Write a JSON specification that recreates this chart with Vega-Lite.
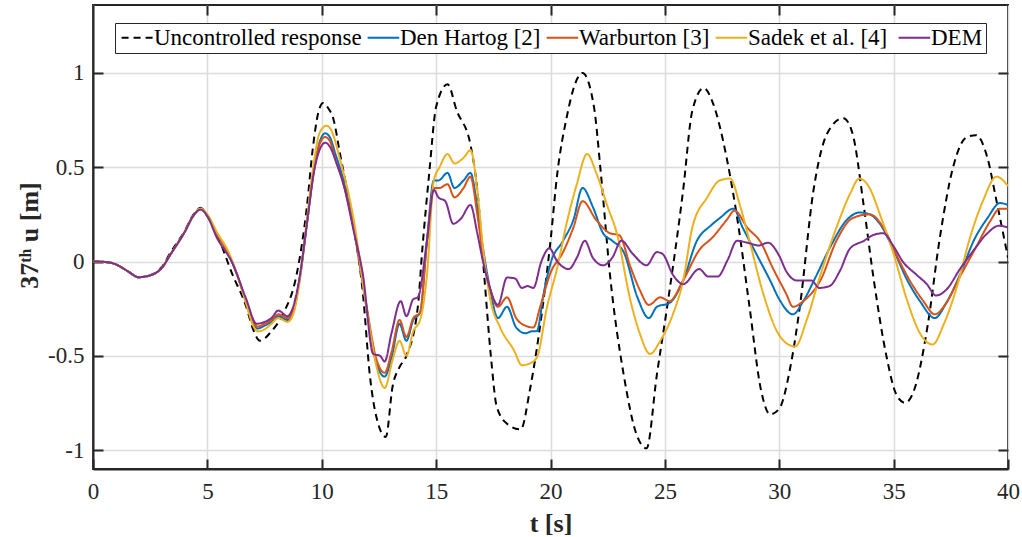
{
"$schema": "https://vega.github.io/schema/vega-lite/v6.json",
"width": 915, "height": 464,
"autosize": {"type": "none"},
"padding": {"left": 93, "top": 5, "right": 14, "bottom": 68},
"background": "white",
"config": {"view": {"stroke": "#262626", "strokeWidth": 2}, "font": "Liberation Serif"},
"data": {"values": [
{"s":"U","t":0,"u":0},{"s":"U","t":0.5,"u":-0.002},{"s":"U","t":1,"u":-0.015},{"s":"U","t":1.5,"u":-0.05},{"s":"U","t":2,"u":-0.083},{"s":"U","t":2.5,"u":-0.073},{"s":"U","t":3,"u":-0.03},{"s":"U","t":3.4,"u":0.05},{"s":"U","t":4,"u":0.16},{"s":"U","t":4.4,"u":0.25},{"s":"U","t":4.7,"u":0.285},{"s":"U","t":5,"u":0.24},
{"s":"U","t":5.4,"u":0.15},{"s":"U","t":6.1,"u":-0.07},{"s":"U","t":6.7,"u":-0.24},{"s":"U","t":7.0,"u":-0.36},{"s":"U","t":7.3,"u":-0.42},{"s":"U","t":7.8,"u":-0.37},{"s":"U","t":8.3,"u":-0.28},{"s":"U","t":8.9,"u":-0.07},{"s":"U","t":9.35,"u":0.29},{"s":"U","t":9.6,"u":0.59},{"s":"U","t":9.85,"u":0.79},{"s":"U","t":10.06,"u":0.84},{"s":"U","t":10.3,"u":0.81},{"s":"U","t":10.5,"u":0.76},{"s":"U","t":10.8,"u":0.57},{"s":"U","t":11.4,"u":0.18},{"s":"U","t":11.8,"u":-0.17},{"s":"U","t":12.1,"u":-0.6},{"s":"U","t":12.4,"u":-0.83},{"s":"U","t":12.8,"u":-0.93},{"s":"U","t":13.1,"u":-0.66},{"s":"U","t":13.4,"u":-0.56},{"s":"U","t":13.7,"u":-0.5},{"s":"U","t":14.2,"u":-0.24},{"s":"U","t":14.4,"u":0.07},{"s":"U","t":14.7,"u":0.47},{"s":"U","t":15.0,"u":0.82},{"s":"U","t":15.5,"u":0.94},{"s":"U","t":15.9,"u":0.8},{"s":"U","t":16.5,"u":0.62},{"s":"U","t":16.8,"u":0.38},{"s":"U","t":17.1,"u":-0.07},{"s":"U","t":17.4,"u":-0.51},{"s":"U","t":17.65,"u":-0.77},{"s":"U","t":18.1,"u":-0.86},{"s":"U","t":18.7,"u":-0.89},{"s":"U","t":19.1,"u":-0.68},{"s":"U","t":19.5,"u":-0.38},{"s":"U","t":20.0,"u":0.11},{"s":"U","t":20.3,"u":0.47},{"s":"U","t":20.7,"u":0.76},{"s":"U","t":21.1,"u":0.95},{"s":"U","t":21.4,"u":1.0},{"s":"U","t":21.9,"u":0.82},{"s":"U","t":22.2,"u":0.47},{"s":"U","t":22.6,"u":-0.07},{"s":"U","t":23.2,"u":-0.6},{"s":"U","t":23.8,"u":-0.93},{"s":"U","t":24.2,"u":-0.99},{"s":"U","t":24.65,"u":-0.6},{"s":"U","t":25.1,"u":-0.24},{"s":"U","t":25.8,"u":0.38},{"s":"U","t":26.2,"u":0.8},{"s":"U","t":26.7,"u":0.92},{"s":"U","t":27.1,"u":0.84},{"s":"U","t":27.7,"u":0.55},{"s":"U","t":28.2,"u":0.2},{"s":"U","t":28.7,"u":-0.24},{"s":"U","t":29.2,"u":-0.68},{"s":"U","t":29.6,"u":-0.81},{"s":"U","t":30.0,"u":-0.78},{"s":"U","t":30.5,"u":-0.55},{"s":"U","t":30.9,"u":-0.24},{"s":"U","t":31.5,"u":0.38},{"s":"U","t":32.1,"u":0.68},{"s":"U","t":32.8,"u":0.76},{"s":"U","t":33.2,"u":0.68},{"s":"U","t":33.7,"u":0.29},{"s":"U","t":34.1,"u":-0.07},{"s":"U","t":34.7,"u":-0.51},{"s":"U","t":35.1,"u":-0.7},{"s":"U","t":35.5,"u":-0.75},{"s":"U","t":35.9,"u":-0.68},{"s":"U","t":36.5,"u":-0.33},{"s":"U","t":37.0,"u":0.11},{"s":"U","t":37.6,"u":0.5},{"s":"U","t":38.2,"u":0.66},{"s":"U","t":38.6,"u":0.67},{"s":"U","t":39.1,"u":0.55},{"s":"U","t":39.5,"u":0.32},{"s":"U","t":40,"u":0.02},

{"s":"DH","t":0,"u":0},{"s":"DH","t":0.5,"u":-0.002},{"s":"DH","t":1,"u":-0.015},{"s":"DH","t":1.5,"u":-0.05},{"s":"DH","t":2,"u":-0.083},{"s":"DH","t":2.5,"u":-0.073},{"s":"DH","t":3,"u":-0.035},{"s":"DH","t":3.4,"u":0.04},{"s":"DH","t":4,"u":0.155},{"s":"DH","t":4.4,"u":0.245},{"s":"DH","t":4.7,"u":0.28},{"s":"DH","t":5,"u":0.245},
{"s":"DH","t":5.4,"u":0.15},{"s":"DH","t":6.0,"u":0.02},{"s":"DH","t":6.3,"u":-0.07},{"s":"DH","t":6.7,"u":-0.22},{"s":"DH","t":7.0,"u":-0.33},{"s":"DH","t":7.2,"u":-0.355},{"s":"DH","t":7.5,"u":-0.34},{"s":"DH","t":7.8,"u":-0.32},{"s":"DH","t":8.1,"u":-0.29},{"s":"DH","t":8.5,"u":-0.31},{"s":"DH","t":8.75,"u":-0.27},{"s":"DH","t":9.05,"u":-0.08},{"s":"DH","t":9.35,"u":0.2},{"s":"DH","t":9.65,"u":0.48},{"s":"DH","t":9.9,"u":0.63},{"s":"DH","t":10.15,"u":0.68},{"s":"DH","t":10.35,"u":0.66},{"s":"DH","t":10.6,"u":0.57},{"s":"DH","t":10.95,"u":0.43},{"s":"DH","t":11.4,"u":0.18},{"s":"DH","t":11.95,"u":-0.24},{"s":"DH","t":12.35,"u":-0.52},{"s":"DH","t":12.75,"u":-0.61},{"s":"DH","t":13.05,"u":-0.51},{"s":"DH","t":13.4,"u":-0.33},{"s":"DH","t":13.7,"u":-0.42},{"s":"DH","t":14.0,"u":-0.31},{"s":"DH","t":14.3,"u":-0.27},{"s":"DH","t":14.6,"u":0.11},{"s":"DH","t":14.9,"u":0.43},{"s":"DH","t":15.1,"u":0.43},{"s":"DH","t":15.5,"u":0.47},{"s":"DH","t":15.8,"u":0.39},{"s":"DH","t":16.2,"u":0.43},{"s":"DH","t":16.5,"u":0.47},{"s":"DH","t":16.8,"u":0.29},{"s":"DH","t":17.05,"u":0.07},{"s":"DH","t":17.35,"u":-0.14},{"s":"DH","t":17.7,"u":-0.3},{"s":"DH","t":18.1,"u":-0.24},{"s":"DH","t":18.5,"u":-0.35},{"s":"DH","t":18.9,"u":-0.38},{"s":"DH","t":19.2,"u":-0.37},{"s":"DH","t":19.4,"u":-0.37},{"s":"DH","t":19.7,"u":-0.17},{"s":"DH","t":20.0,"u":-0.01},{"s":"DH","t":20.55,"u":0.11},{"s":"DH","t":21.0,"u":0.22},{"s":"DH","t":21.4,"u":0.39},{"s":"DH","t":21.85,"u":0.29},{"s":"DH","t":22.3,"u":0.15},{"s":"DH","t":22.7,"u":0.11},{"s":"DH","t":23.2,"u":0.05},{"s":"DH","t":23.8,"u":-0.19},{"s":"DH","t":24.3,"u":-0.3},{"s":"DH","t":24.65,"u":-0.24},{"s":"DH","t":25.2,"u":-0.22},{"s":"DH","t":25.8,"u":-0.1},{"s":"DH","t":26.4,"u":0.11},{"s":"DH","t":27.0,"u":0.19},{"s":"DH","t":27.4,"u":0.23},{"s":"DH","t":28.0,"u":0.28},{"s":"DH","t":28.4,"u":0.18},{"s":"DH","t":29.0,"u":0.04},{"s":"DH","t":29.6,"u":-0.1},{"s":"DH","t":30.0,"u":-0.2},{"s":"DH","t":30.6,"u":-0.28},{"s":"DH","t":31.05,"u":-0.21},{"s":"DH","t":31.6,"u":-0.08},{"s":"DH","t":32.2,"u":0.07},{"s":"DH","t":32.95,"u":0.22},{"s":"DH","t":33.5,"u":0.26},{"s":"DH","t":33.95,"u":0.25},{"s":"DH","t":34.4,"u":0.2},{"s":"DH","t":35.0,"u":0.06},{"s":"DH","t":35.6,"u":-0.1},{"s":"DH","t":36.15,"u":-0.21},{"s":"DH","t":36.8,"u":-0.3},{"s":"DH","t":37.3,"u":-0.22},{"s":"DH","t":37.9,"u":-0.07},{"s":"DH","t":38.5,"u":0.11},{"s":"DH","t":39.1,"u":0.23},{"s":"DH","t":39.65,"u":0.31},{"s":"DH","t":40,"u":0.3},

{"s":"W","t":0,"u":0},{"s":"W","t":0.5,"u":-0.002},{"s":"W","t":1,"u":-0.015},{"s":"W","t":1.5,"u":-0.05},{"s":"W","t":2,"u":-0.083},{"s":"W","t":2.5,"u":-0.073},{"s":"W","t":3,"u":-0.035},{"s":"W","t":3.4,"u":0.04},{"s":"W","t":4,"u":0.155},{"s":"W","t":4.4,"u":0.245},{"s":"W","t":4.7,"u":0.28},{"s":"W","t":5,"u":0.245},
{"s":"W","t":5.4,"u":0.15},{"s":"W","t":6.0,"u":0.02},{"s":"W","t":6.3,"u":-0.07},{"s":"W","t":6.7,"u":-0.215},{"s":"W","t":7.0,"u":-0.32},{"s":"W","t":7.2,"u":-0.345},{"s":"W","t":7.5,"u":-0.33},{"s":"W","t":7.8,"u":-0.31},{"s":"W","t":8.1,"u":-0.28},{"s":"W","t":8.5,"u":-0.3},{"s":"W","t":8.75,"u":-0.26},{"s":"W","t":9.05,"u":-0.08},{"s":"W","t":9.35,"u":0.2},{"s":"W","t":9.65,"u":0.47},{"s":"W","t":9.9,"u":0.62},{"s":"W","t":10.15,"u":0.66},{"s":"W","t":10.35,"u":0.64},{"s":"W","t":10.6,"u":0.54},{"s":"W","t":10.95,"u":0.41},{"s":"W","t":11.4,"u":0.17},{"s":"W","t":11.95,"u":-0.23},{"s":"W","t":12.35,"u":-0.5},{"s":"W","t":12.75,"u":-0.59},{"s":"W","t":13.05,"u":-0.48},{"s":"W","t":13.4,"u":-0.31},{"s":"W","t":13.7,"u":-0.4},{"s":"W","t":14.0,"u":-0.3},{"s":"W","t":14.3,"u":-0.27},{"s":"W","t":14.6,"u":0.11},{"s":"W","t":14.9,"u":0.39},{"s":"W","t":15.15,"u":0.39},{"s":"W","t":15.5,"u":0.41},{"s":"W","t":15.8,"u":0.34},{"s":"W","t":16.2,"u":0.39},{"s":"W","t":16.5,"u":0.45},{"s":"W","t":16.8,"u":0.25},{"s":"W","t":17.05,"u":0.03},{"s":"W","t":17.35,"u":-0.14},{"s":"W","t":17.7,"u":-0.24},{"s":"W","t":18.1,"u":-0.19},{"s":"W","t":18.5,"u":-0.3},{"s":"W","t":18.9,"u":-0.34},{"s":"W","t":19.25,"u":-0.35},{"s":"W","t":19.55,"u":-0.24},{"s":"W","t":20.0,"u":-0.06},{"s":"W","t":20.55,"u":0.05},{"s":"W","t":21.0,"u":0.18},{"s":"W","t":21.4,"u":0.32},{"s":"W","t":22.0,"u":0.22},{"s":"W","t":22.6,"u":0.15},{"s":"W","t":23.0,"u":0.14},{"s":"W","t":23.5,"u":-0.03},{"s":"W","t":23.9,"u":-0.15},{"s":"W","t":24.3,"u":-0.23},{"s":"W","t":24.8,"u":-0.19},{"s":"W","t":25.2,"u":-0.21},{"s":"W","t":25.8,"u":-0.1},{"s":"W","t":26.5,"u":0.06},{"s":"W","t":27.1,"u":0.13},{"s":"W","t":27.7,"u":0.22},{"s":"W","t":28.05,"u":0.27},{"s":"W","t":28.6,"u":0.18},{"s":"W","t":29.2,"u":0.1},{"s":"W","t":29.7,"u":-0.03},{"s":"W","t":30.3,"u":-0.17},{"s":"W","t":30.6,"u":-0.24},{"s":"W","t":31.05,"u":-0.21},{"s":"W","t":31.8,"u":-0.1},{"s":"W","t":32.5,"u":0.11},{"s":"W","t":33.2,"u":0.23},{"s":"W","t":33.95,"u":0.25},{"s":"W","t":34.55,"u":0.18},{"s":"W","t":35.1,"u":0.04},{"s":"W","t":35.7,"u":-0.1},{"s":"W","t":36.3,"u":-0.21},{"s":"W","t":36.8,"u":-0.28},{"s":"W","t":37.3,"u":-0.22},{"s":"W","t":37.9,"u":-0.08},{"s":"W","t":38.6,"u":0.075},{"s":"W","t":39.2,"u":0.21},{"s":"W","t":39.65,"u":0.28},{"s":"W","t":40,"u":0.28},

{"s":"S","t":0,"u":0},{"s":"S","t":0.5,"u":-0.002},{"s":"S","t":1,"u":-0.015},{"s":"S","t":1.5,"u":-0.05},{"s":"S","t":2,"u":-0.083},{"s":"S","t":2.5,"u":-0.073},{"s":"S","t":3,"u":-0.035},{"s":"S","t":3.4,"u":0.04},{"s":"S","t":4,"u":0.155},{"s":"S","t":4.4,"u":0.245},{"s":"S","t":4.7,"u":0.28},{"s":"S","t":5,"u":0.25},
{"s":"S","t":5.4,"u":0.16},{"s":"S","t":6.0,"u":0.03},{"s":"S","t":6.3,"u":-0.07},{"s":"S","t":6.7,"u":-0.225},{"s":"S","t":7.0,"u":-0.34},{"s":"S","t":7.2,"u":-0.37},{"s":"S","t":7.5,"u":-0.36},{"s":"S","t":7.8,"u":-0.33},{"s":"S","t":8.1,"u":-0.3},{"s":"S","t":8.5,"u":-0.32},{"s":"S","t":8.75,"u":-0.28},{"s":"S","t":9.05,"u":-0.09},{"s":"S","t":9.35,"u":0.22},{"s":"S","t":9.65,"u":0.52},{"s":"S","t":9.9,"u":0.68},{"s":"S","t":10.2,"u":0.72},{"s":"S","t":10.4,"u":0.7},{"s":"S","t":10.8,"u":0.54},{"s":"S","t":11.4,"u":0.22},{"s":"S","t":11.95,"u":-0.24},{"s":"S","t":12.4,"u":-0.56},{"s":"S","t":12.75,"u":-0.67},{"s":"S","t":13.1,"u":-0.52},{"s":"S","t":13.4,"u":-0.42},{"s":"S","t":13.7,"u":-0.5},{"s":"S","t":14.0,"u":-0.37},{"s":"S","t":14.3,"u":-0.31},{"s":"S","t":14.6,"u":-0.07},{"s":"S","t":14.9,"u":0.43},{"s":"S","t":15.15,"u":0.5},{"s":"S","t":15.5,"u":0.57},{"s":"S","t":15.8,"u":0.52},{"s":"S","t":16.2,"u":0.55},{"s":"S","t":16.5,"u":0.59},{"s":"S","t":16.8,"u":0.38},{"s":"S","t":17.05,"u":0.07},{"s":"S","t":17.35,"u":-0.19},{"s":"S","t":17.8,"u":-0.35},{"s":"S","t":18.4,"u":-0.47},{"s":"S","t":18.75,"u":-0.55},{"s":"S","t":19.1,"u":-0.54},{"s":"S","t":19.4,"u":-0.51},{"s":"S","t":19.85,"u":-0.24},{"s":"S","t":20.3,"u":-0.03},{"s":"S","t":20.7,"u":0.2},{"s":"S","t":21.15,"u":0.41},{"s":"S","t":21.6,"u":0.57},{"s":"S","t":22.0,"u":0.47},{"s":"S","t":22.5,"u":0.29},{"s":"S","t":22.9,"u":0.15},{"s":"S","t":23.5,"u":-0.21},{"s":"S","t":23.9,"u":-0.38},{"s":"S","t":24.35,"u":-0.49},{"s":"S","t":24.8,"u":-0.42},{"s":"S","t":25.35,"u":-0.28},{"s":"S","t":25.8,"u":-0.1},{"s":"S","t":26.2,"u":0.18},{"s":"S","t":26.85,"u":0.34},{"s":"S","t":27.4,"u":0.43},{"s":"S","t":27.85,"u":0.44},{"s":"S","t":28.3,"u":0.29},{"s":"S","t":28.7,"u":0.11},{"s":"S","t":29.3,"u":-0.17},{"s":"S","t":29.9,"u":-0.37},{"s":"S","t":30.4,"u":-0.44},{"s":"S","t":30.7,"u":-0.45},{"s":"S","t":31.2,"u":-0.31},{"s":"S","t":31.8,"u":-0.07},{"s":"S","t":32.5,"u":0.18},{"s":"S","t":33.1,"u":0.36},{"s":"S","t":33.5,"u":0.44},{"s":"S","t":33.95,"u":0.39},{"s":"S","t":34.4,"u":0.25},{"s":"S","t":35.0,"u":0.04},{"s":"S","t":35.6,"u":-0.21},{"s":"S","t":36.15,"u":-0.38},{"s":"S","t":36.7,"u":-0.44},{"s":"S","t":37.2,"u":-0.33},{"s":"S","t":37.8,"u":-0.12},{"s":"S","t":38.3,"u":0.11},{"s":"S","t":38.9,"u":0.32},{"s":"S","t":39.5,"u":0.45},{"s":"S","t":40,"u":0.4},

{"s":"D","t":0,"u":0},{"s":"D","t":0.5,"u":-0.002},{"s":"D","t":1,"u":-0.015},{"s":"D","t":1.5,"u":-0.05},{"s":"D","t":2,"u":-0.083},{"s":"D","t":2.5,"u":-0.073},{"s":"D","t":3,"u":-0.035},{"s":"D","t":3.4,"u":0.04},{"s":"D","t":4,"u":0.155},{"s":"D","t":4.4,"u":0.245},{"s":"D","t":4.7,"u":0.275},{"s":"D","t":5,"u":0.24},
{"s":"D","t":5.4,"u":0.13},{"s":"D","t":6.1,"u":-0.01},{"s":"D","t":6.7,"u":-0.2},{"s":"D","t":7.15,"u":-0.33},{"s":"D","t":7.5,"u":-0.32},{"s":"D","t":7.8,"u":-0.3},{"s":"D","t":8.1,"u":-0.26},{"s":"D","t":8.5,"u":-0.29},{"s":"D","t":8.75,"u":-0.24},{"s":"D","t":9.05,"u":-0.07},{"s":"D","t":9.35,"u":0.2},{"s":"D","t":9.65,"u":0.47},{"s":"D","t":9.9,"u":0.59},{"s":"D","t":10.15,"u":0.63},{"s":"D","t":10.35,"u":0.61},{"s":"D","t":10.65,"u":0.52},{"s":"D","t":10.95,"u":0.41},{"s":"D","t":11.4,"u":0.16},{"s":"D","t":11.8,"u":-0.07},{"s":"D","t":12.25,"u":-0.49},{"s":"D","t":12.55,"u":-0.5},{"s":"D","t":12.75,"u":-0.53},{"s":"D","t":13.05,"u":-0.38},{"s":"D","t":13.45,"u":-0.21},{"s":"D","t":13.7,"u":-0.29},{"s":"D","t":14.0,"u":-0.2},{"s":"D","t":14.2,"u":-0.19},{"s":"D","t":14.6,"u":0.11},{"s":"D","t":14.9,"u":0.38},{"s":"D","t":15.1,"u":0.34},{"s":"D","t":15.4,"u":0.32},{"s":"D","t":15.75,"u":0.2},{"s":"D","t":16.1,"u":0.23},{"s":"D","t":16.5,"u":0.3},{"s":"D","t":16.8,"u":0.15},{"s":"D","t":17.05,"u":0.0},{"s":"D","t":17.35,"u":-0.14},{"s":"D","t":17.7,"u":-0.23},{"s":"D","t":18.1,"u":-0.085},{"s":"D","t":18.45,"u":-0.09},{"s":"D","t":18.75,"u":-0.14},{"s":"D","t":19.0,"u":-0.13},{"s":"D","t":19.25,"u":-0.14},{"s":"D","t":19.6,"u":0.0},{"s":"D","t":19.95,"u":0.07},{"s":"D","t":20.3,"u":0.0},{"s":"D","t":20.8,"u":-0.04},{"s":"D","t":21.15,"u":0.02},{"s":"D","t":21.5,"u":0.11},{"s":"D","t":21.85,"u":0.02},{"s":"D","t":22.3,"u":-0.02},{"s":"D","t":22.7,"u":0.02},{"s":"D","t":23.1,"u":0.11},{"s":"D","t":23.6,"u":0.04},{"s":"D","t":24.2,"u":-0.02},{"s":"D","t":24.65,"u":0.05},{"s":"D","t":24.9,"u":0.04},{"s":"D","t":25.35,"u":-0.07},{"s":"D","t":25.8,"u":-0.12},{"s":"D","t":26.5,"u":-0.04},{"s":"D","t":26.9,"u":-0.08},{"s":"D","t":27.3,"u":-0.08},{"s":"D","t":27.75,"u":0.01},{"s":"D","t":28.15,"u":0.11},{"s":"D","t":28.6,"u":0.1},{"s":"D","t":29.1,"u":0.085},{"s":"D","t":29.5,"u":0.1},{"s":"D","t":30.0,"u":0.03},{"s":"D","t":30.3,"u":-0.05},{"s":"D","t":30.75,"u":-0.1},{"s":"D","t":31.05,"u":-0.1},{"s":"D","t":31.4,"u":-0.1},{"s":"D","t":31.75,"u":-0.14},{"s":"D","t":32.2,"u":-0.13},{"s":"D","t":32.65,"u":-0.05},{"s":"D","t":33.1,"u":0.07},{"s":"D","t":33.7,"u":0.11},{"s":"D","t":34.1,"u":0.14},{"s":"D","t":34.55,"u":0.15},{"s":"D","t":35.0,"u":0.08},{"s":"D","t":35.4,"u":0.0},{"s":"D","t":36.0,"u":-0.07},{"s":"D","t":36.45,"u":-0.12},{"s":"D","t":36.85,"u":-0.18},{"s":"D","t":37.3,"u":-0.15},{"s":"D","t":37.9,"u":-0.04},{"s":"D","t":38.5,"u":0.06},{"s":"D","t":39.1,"u":0.15},{"s":"D","t":39.6,"u":0.19},{"s":"D","t":40,"u":0.18}
]},
"layer": [
{
"mark": {"type": "line", "strokeWidth": 2, "interpolate": "monotone", "clip": true},
"encoding": {
"x": {"field": "t", "type": "quantitative", "scale": {"domain": [0, 40], "nice": false, "zero": false},
  "axis": {"values": [0,5,10,15,20,25,30,35,40], "labelFont": "Liberation Serif", "labelFontSize": 23, "labelColor": "#262626", "labelPadding": 21, "labelFlush": false,
    "tickSize": -10, "tickWidth": 2, "tickColor": "#262626", "domainColor": "#262626", "domainWidth": 2,
    "gridColor": "#dcdcdc", "gridWidth": 1.5,
    "title": "t  [s]", "titleFont": "Liberation Serif", "titleFontSize": 26, "titleFontWeight": "bold", "titleColor": "#262626", "titleY": 62, "titleBaseline": "alphabetic"}},
"y": {"field": "u", "type": "quantitative", "scale": {"domain": [-1.1, 1.36], "nice": false, "zero": false},
  "axis": {"values": [-1,-0.5,0,0.5,1], "labelExpr": "datum.value + ''", "labelFont": "Liberation Serif", "labelFontSize": 23, "labelColor": "#262626", "labelPadding": 19, "labelFlush": false,
    "tickSize": -10, "tickWidth": 2, "tickColor": "#262626", "domainColor": "#262626", "domainWidth": 2,
    "gridColor": "#dcdcdc", "gridWidth": 1.5,
    "title": "37ᵗʰ   u  [m]", "titleFont": "Liberation Serif", "titleFontSize": 26, "titleFontWeight": "bold", "titleColor": "#262626", "titleX": -56, "titleY": 230, "titleBaseline": "alphabetic", "titleAlign": "center", "titleAngle": -90}},
"color": {"field": "s", "type": "nominal",
  "scale": {"domain": ["U","DH","W","S","D"], "range": ["#000000","#0072BD","#D95319","#EDB120","#7E2F8E"]},
  "legend": {"orient": "none", "legendX": 22, "legendY": 18, "direction": "horizontal", "columns": 5, "title": null,
    "labelExpr": "{'U':'Uncontrolled response','DH':'Den Hartog [2]','W':'Warburton [3]','S':'Sadek  et al. [4]','D':'DEM'}[datum.label]",
    "labelFont": "Liberation Serif", "labelFontSize": 23, "labelColor": "#000000", "labelLimit": 400,
    "symbolType": "M-1,0L3,0", "symbolSize": 250, "symbolStrokeWidth": 2,
    "strokeColor": "#262626", "fillColor": "white", "padding": 3, "columnPadding": 1, "labelOffset": 13}},
"strokeDash": {"field": "s", "type": "nominal",
  "scale": {"domain": ["U","DH","W","S","D"], "range": [[7,5],[1,0],[1,0],[1,0],[1,0]]},
  "legend": {"orient": "none", "legendX": 22, "legendY": 18, "direction": "horizontal", "columns": 5, "title": null,
    "labelExpr": "{'U':'Uncontrolled response','DH':'Den Hartog [2]','W':'Warburton [3]','S':'Sadek  et al. [4]','D':'DEM'}[datum.label]",
    "labelFont": "Liberation Serif", "labelFontSize": 23, "labelColor": "#000000", "labelLimit": 400,
    "symbolType": "M-1,0L3,0", "symbolSize": 250, "symbolStrokeWidth": 2,
    "strokeColor": "#262626", "fillColor": "white", "padding": 3, "columnPadding": 1, "labelOffset": 13}}
}
},
{
"mark": {"type": "line", "opacity": 0},
"encoding": {
"x": {"field": "t", "type": "quantitative", "axis": {"orient": "top", "values": [5,10,15,20,25,30,35], "labels": false, "title": null, "grid": false, "domain": false, "tickSize": -10, "tickWidth": 2, "tickColor": "#262626"}},
"y": {"field": "u", "type": "quantitative", "axis": {"orient": "right", "values": [-1,-0.5,0,0.5,1], "labels": false, "title": null, "grid": false, "domain": false, "tickSize": -10, "tickWidth": 2, "tickColor": "#262626"}}
}
}
],
"resolve": {"axis": {"x": "independent", "y": "independent"}}
}
